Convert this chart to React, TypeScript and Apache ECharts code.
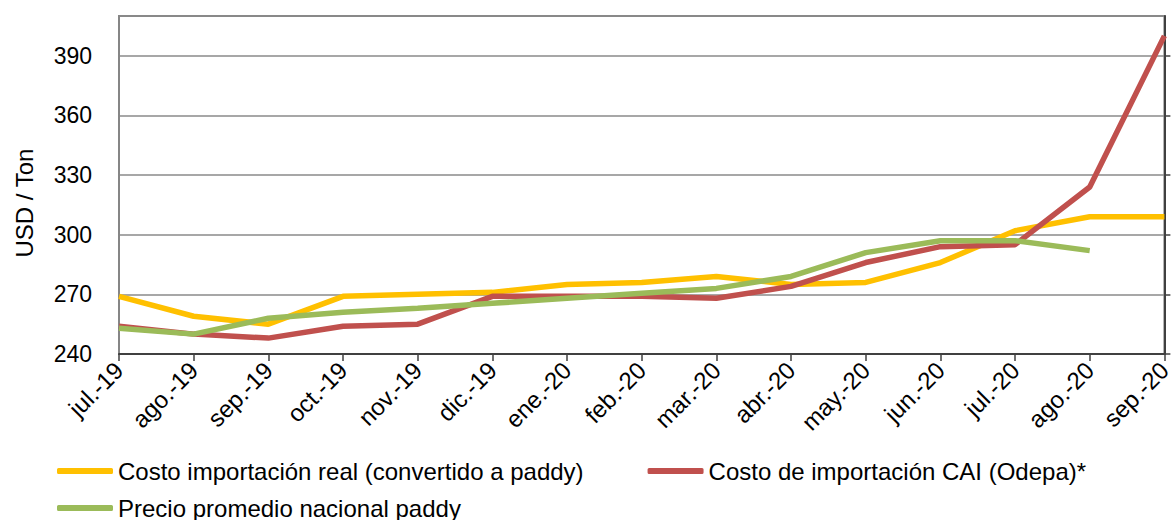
import React, { useEffect, useRef } from "react";
import * as echarts from "echarts";

const categories = [
  "jul.-19", "ago.-19", "sep.-19", "oct.-19", "nov.-19", "dic.-19", "ene.-20",
  "feb.-20", "mar.-20", "abr.-20", "may.-20", "jun.-20", "jul.-20", "ago.-20", "sep.-20",
];

const costoReal = [269, 259, 255, 269, 270, 271, 275, 276, 279, 275, 276, 286, 302, 309, 309];
const costoCAI = [254, 250, 248, 254, 255, 269, 269, 269, 268, 274, 286, 294, 295, 324, 400];
const precioNacional = [253, 250, 258, 261, 263, 265.5, 268, 270.5, 273, 279, 291, 297, 297, 292, null];

const yTicks = [240, 270, 300, 330, 360, 390];

const FONT = "'Liberation Sans', Arial, sans-serif";

export default function App() {
  const ref = useRef<HTMLDivElement>(null);
  useEffect(() => {
    if (!ref.current) return;
    const chart = echarts.init(ref.current, null, { renderer: "svg" });
    chart.setOption({
      animation: false,
      backgroundColor: "#ffffff",
      textStyle: { fontFamily: FONT, color: "#000" },
      grid: {
        left: 119,
        right: 6,
        top: 16,
        bottom: 166,
        show: true,
        borderColor: "#868686",
        borderWidth: 2,
      },
      legend: [
        {
          data: ["Costo importación real (convertido a paddy)", "Costo de importación CAI (Odepa)*"],
          left: 57,
          top: 459,
          orient: "horizontal",
          icon: "roundRect",
          itemWidth: 56,
          itemHeight: 6,
          itemGap: 64,
          itemTextGap: 10,
          textStyle: { fontSize: 24, fontFamily: FONT, color: "#000" },
          padding: 0,
        },
        {
          data: ["Precio promedio nacional paddy"],
          left: 57,
          top: 496,
          orient: "horizontal",
          icon: "roundRect",
          itemWidth: 56,
          itemHeight: 6,
          itemTextGap: 10,
          textStyle: { fontSize: 24, fontFamily: FONT, color: "#000" },
          padding: 0,
        },
      ],
      xAxis: {
        type: "category",
        data: categories,
        boundaryGap: false,
        axisLine: { show: true, lineStyle: { color: "#404040", width: 2 } },
        axisTick: { show: true, length: 7, lineStyle: { color: "#404040", width: 1.5 } },
        axisLabel: {
          interval: 0,
          rotate: 45,
          fontSize: 24,
          margin: 12,
          color: "#000",
          fontFamily: FONT,
        },
        splitLine: { show: false },
      },
      yAxis: [
        {
          type: "value",
          min: 240,
          max: 410,
          interval: 30,
          position: "left",
          axisLine: { show: true, lineStyle: { color: "#868686", width: 2 } },
          axisTick: { show: false },
          axisLabel: {
            fontSize: 23,
            margin: 27,
            color: "#000",
            fontFamily: FONT,
            customValues: yTicks,
          },
          splitLine: { show: true, lineStyle: { color: "#8a8a8a", width: 1.5 } },
        },
        {
          type: "value",
          min: 240,
          max: 410,
          interval: 30,
          position: "right",
          axisLine: { show: true, lineStyle: { color: "#404040", width: 2 } },
          axisTick: {
            show: true,
            length: 6,
            lineStyle: { color: "#404040", width: 1.5 },
            customValues: yTicks,
          },
          axisLabel: { show: false },
          splitLine: { show: false },
        },
      ],
      series: [
        {
          name: "Costo importación real (convertido a paddy)",
          type: "line",
          data: costoReal,
          symbol: "none",
          lineStyle: { color: "#FFC000", width: 5.5 },
          itemStyle: { color: "#FFC000" },
        },
        {
          name: "Costo de importación CAI (Odepa)*",
          type: "line",
          data: costoCAI,
          symbol: "none",
          lineStyle: { color: "#C0504D", width: 5.5 },
          itemStyle: { color: "#C0504D" },
        },
        {
          name: "Precio promedio nacional paddy",
          type: "line",
          data: precioNacional,
          symbol: "none",
          lineStyle: { color: "#9BBB59", width: 5.5 },
          itemStyle: { color: "#9BBB59" },
        },
      ],
      graphic: [
        {
          type: "text",
          x: 24,
          y: 203,
          rotation: Math.PI / 2,
          style: {
            text: "USD / Ton",
            fontSize: 24,
            fontFamily: FONT,
            fill: "#000",
            align: "center",
            verticalAlign: "middle",
          },
        },
      ],
    });
    return () => chart.dispose();
  }, []);
  return <div ref={ref} style={{ width: 1175, height: 520, position: "absolute", left: 0, top: 0 }} />;
}
